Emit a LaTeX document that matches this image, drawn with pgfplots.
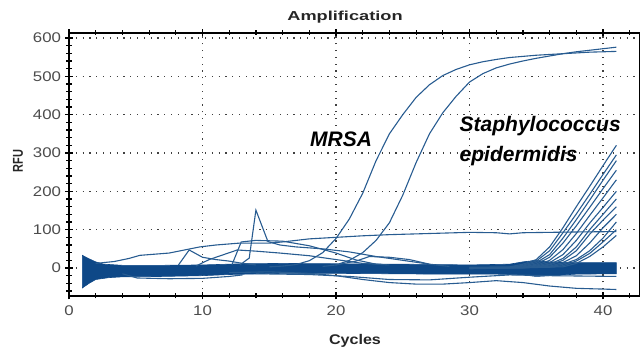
\documentclass[border=0pt]{standalone}
\usepackage{graphicx}
\usepackage{pgfplots}
\pgfplotsset{compat=1.18}
\usepackage{fontspec}
\setmainfont{Liberation Sans}
\definecolor{qblue}{RGB}{14,72,135}
\definecolor{lblue}{RGB}{40,92,145}
\begin{document}
\begin{tikzpicture}
\useasboundingbox (-69pt,-56pt) rectangle (571pt,296pt);
\begin{axis}[
  scale only axis, width=571pt, height=263pt,
  xmin=0, xmax=42.77, ymin=-73, ymax=613,
  xtick={0,10,20,30,40}, minor xtick={2,4,...,42},
  ytick={0,100,...,600}, minor ytick={-60,-40,...,600},
  ytick pos=left,
  tick align=center,
  major tick length=7pt, minor tick length=5pt,
  every tick/.style={black, line width=1.2pt},
  axis line style={line width=1.6pt},
  grid=major,
  major grid style={black!75, line width=1.2pt, dash pattern=on 1.2pt off 5.6pt},
  tick label style={font=\fontsize{14}{16}\selectfont, text=black!70},
  xticklabel={\scalebox{1.2}[1]{\pgfmathprintnumber[assume math mode=true]{\tick}}},
  yticklabel={\scalebox{1.2}[1]{\pgfmathprintnumber[assume math mode=true]{\tick}}},
  xticklabel style={yshift=-3pt},
  yticklabel style={xshift=-1pt},
  every axis plot/.append style={line width=1.1pt},
]
% dense baseline band
\addplot[fill=qblue, draw=qblue, line width=0.6pt] coordinates {
 (1,33) (1.5,24) (2,16) (2.6,10) (4,7) (7,7) (10,8) (13,11) (16,12) (20,11) (25,10) (30,8) (33,10) (34,16) (35,20) (36,16) (38,14) (41,14)
 (41,-15) (38,-16) (36,-20) (35,-22) (34,-18) (32,-16) (28,-16) (24,-15) (20,-14) (16,-14) (12,-17) (10,-20) (7,-22) (4,-23) (3,-25) (2,-30) (1.5,-40) (1,-52)
} -- cycle;
% stray baseline lines
\addplot[lblue] coordinates {(2,12) (3.4,17) (4.5,25) (5.3,33) (7.5,39) (9.8,55) (11,60) (12.8,65) (15,65) (16,68) (18,76) (20,80) (22,84) (24,87) (26,89) (28,91) (30,93) (32,92) (33,89) (34,92) (36,93) (38,94) (41,95)};
\addplot[lblue] coordinates {(8.2,8) (9.0,47) (10,28) (11,22) (12,18) (13,12) (14,8)};
\addplot[lblue] coordinates {(9.5,5) (10.5,22) (12.6,47) (14,44) (15.8,39) (18,32) (20,22) (22,12) (24,8)};
\addplot[lblue] coordinates {(12.8,8) (13.5,26) (14,151) (14.9,69) (15.8,60) (17,55) (19,50) (21,42) (23,30) (25,20) (27,10)};
\addplot[lblue] coordinates {(12.2,8) (12.9,68) (14,72) (16,70) (18,58) (20,39) (21.5,21) (23,10)};
\addplot[lblue] coordinates {(20,8) (21.5,18) (22.5,30) (24,28) (25.5,22) (27,10) (28.5,4)};
\addplot[lblue] coordinates {(4,-15) (5.1,-26) (7.5,-28) (10,-27) (12,-22) (13,-18)};
\addplot[lblue] coordinates {(12,-12) (15,-10) (18,-14) (20,-20) (22,-30) (24,-38) (26,-42) (28,-42) (30,-38) (32,-33) (34,-38) (36,-47) (38,-53) (41,-56)};
\addplot[lblue] coordinates {(14,-15) (18,-17) (21,-22) (24,-30) (27,-31) (30,-24) (33,-18) (36,-20) (41,-22)};
% MRSA
\addplot[lblue] coordinates {(15,3) (16,5) (17,9) (18,19) (19,40) (20,77) (21,128) (22,195) (23,280) (24,350) (25,400) (26,445) (27,478) (28,502) (29,518) (30,530) (31,538) (32,544) (33,549) (34,552) (35,555) (36,557) (37,559) (38,561) (39,563) (40,564) (41,565)};
% S. epidermidis
\addplot[lblue] coordinates {(19,4) (20,8) (21,20) (22,40) (23,72) (24,118) (25,190) (26,275) (27,350) (28,405) (29,448) (30,485) (31,507) (32,522) (33,532) (34,540) (35,547) (36,553) (37,559) (38,564) (39,568) (40,572) (41,576)};
% late rising curves
\addplot[lblue] coordinates {(30,2) (33,3) (34,10) (35,22) (36,55) (37,105) (38,160) (39,213) (40,267) (41,320)};
\addplot[lblue] coordinates {(30,0) (33,2) (34,7) (35,18) (36,45) (37,92) (38,141) (39,192) (40,244) (41,295)};
\addplot[lblue] coordinates {(30,1) (33,1) (34,5) (35,14) (36,35) (37,78) (38,126) (39,177) (40,229) (41,280)};
\addplot[lblue] coordinates {(30,-2) (33,0) (34,3) (35,10) (36,28) (37,65) (38,110) (39,158) (40,207) (41,255)};
\addplot[lblue] coordinates {(30,0) (34,2) (35,7) (36,20) (37,48) (38,90) (39,137) (40,183) (41,230)};
\addplot[lblue] coordinates {(30,-1) (34,0) (35,5) (36,14) (37,35) (38,72) (39,117) (40,158) (41,200)};
\addplot[lblue] coordinates {(30,1) (34,1) (35,3) (36,10) (37,25) (38,55) (39,100) (40,140) (41,180)};
\addplot[lblue] coordinates {(30,0) (35,2) (36,8) (37,20) (38,45) (39,88) (40,125) (41,160)};
\addplot[lblue] coordinates {(30,-1) (35,1) (36,5) (37,14) (38,32) (39,65) (40,105) (41,140)};
\addplot[lblue] coordinates {(30,0) (36,3) (37,10) (38,22) (39,45) (40,78) (41,120)};
\addplot[lblue] coordinates {(30,0) (36,2) (37,6) (38,18) (39,38) (40,68) (41,100)};
\addplot[lblue] coordinates {(30,0) (37,3) (38,12) (39,30) (40,55) (41,85)};
% annotations
\node[anchor=base west, font=\bfseries\itshape\fontsize{21}{24}\selectfont] at (axis cs:17.8,316) {MRSA};
\node[anchor=base west, font=\bfseries\itshape\fontsize{21}{24}\selectfont] at (axis cs:29.0,355) {Staphylococcus};
\node[anchor=base west, font=\bfseries\itshape\fontsize{21}{24}\selectfont] at (axis cs:29.0,277) {epidermidis};
\end{axis}
\node[font=\bfseries\fontsize{13}{15}\selectfont, text=black!85] at (276pt,279pt) {\scalebox{1.4}[1]{Amplification}};
\node[font=\bfseries\fontsize{11}{13}\selectfont, text=black!85, rotate=90] at (-51pt,135pt) {\scalebox{1}[1.3]{RFU}};
\node[font=\bfseries\fontsize{14}{16}\selectfont, text=black!85] at (286pt,-45pt) {\scalebox{1.15}[1]{Cycles}};
\end{tikzpicture}
\end{document}
